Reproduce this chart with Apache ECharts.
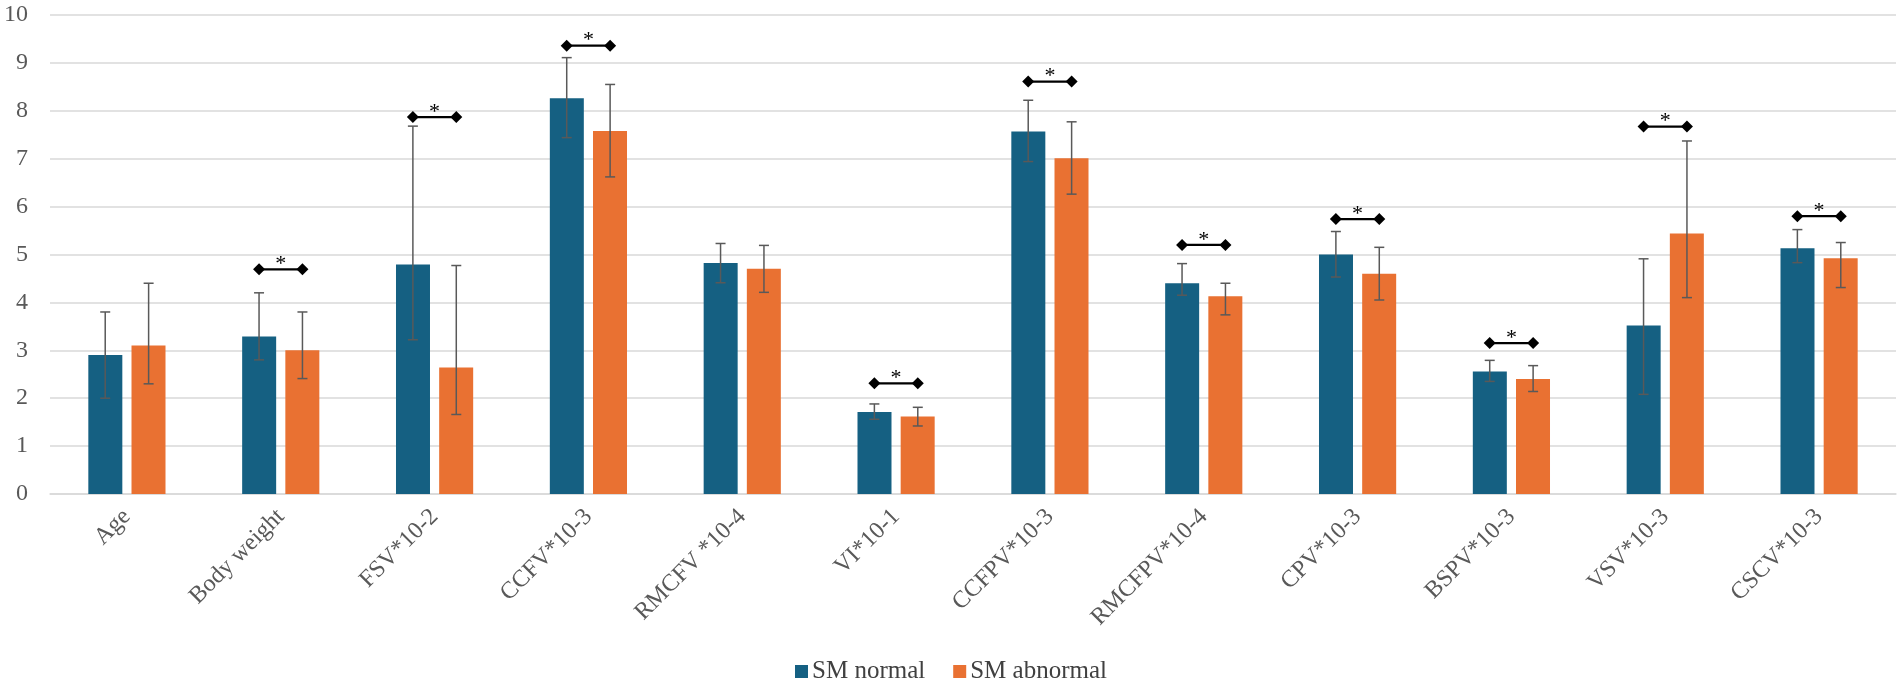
<!DOCTYPE html>
<html>
<head>
<meta charset="utf-8">
<script src="https://cdn.jsdelivr.net/npm/echarts@6/dist/echarts.min.js"></script>
<style>
  html, body { margin: 0; padding: 0; background: #fff; }
  #chart { width: 1902px; height: 690px; }
</style>
</head>
<body>
<div id="chart"></div>
<script>
const categories = ['Age', 'Body weight', 'FSV*10-2', 'CCFV*10-3', 'RMCFV *10-4', 'VI*10-1',
  'CCFPV*10-3', 'RMCFPV*10-4', 'CPV*10-3', 'BSPV*10-3', 'VSV*10-3', 'CSCV*10-3']
const normalMean = [2.90, 3.29, 4.79, 8.26, 4.82, 1.71, 7.57, 4.40, 5.00, 2.56, 3.52, 5.13]
const normalLow = [2.00, 2.80, 3.22, 7.44, 4.41, 1.56, 6.94, 4.15, 4.53, 2.35, 2.08, 4.83]
const normalHigh = [3.80, 4.20, 7.68, 9.11, 5.23, 1.88, 8.22, 4.81, 5.48, 2.79, 4.91, 5.52]
const abnormalMean = [3.10, 3.00, 2.64, 7.58, 4.70, 1.62, 7.01, 4.13, 4.60, 2.40, 5.44, 4.92]
const abnormalLow = [2.30, 2.41, 1.66, 6.62, 4.21, 1.42, 6.26, 3.74, 4.05, 2.14, 4.10, 4.31]
const abnormalHigh = [4.40, 3.80, 4.77, 8.55, 5.19, 1.81, 7.77, 4.40, 5.15, 2.68, 7.37, 5.25]
// height of the significance bracket, null where none
const sigLevel = [null, 4.69, 7.87, 9.36, null, 2.31, 8.61, 5.20, 5.74, 3.15, 7.67, 5.80]
const yTicks = { min: 0, max: 10, interval: 1 }

const FONT = '"Liberation Serif", "Times New Roman", serif'
const BAR_W = 34
const HALF = 21.7 // distance from category centre to each bar centre
const blue = '#156082'
const orange = '#E97132'

const myChart = echarts.init(document.getElementById('chart'))

function errorBars(low, high, side) {
  return {
    type: 'custom',
    z: 5,
    silent: true,
    data: low.map((l, i) => [i, l, high[i]]),
    renderItem(params, api) {
      const lo = api.coord([api.value(0), api.value(1)])
      const hi = api.coord([api.value(0), api.value(2)])
      const x = lo[0] + side * HALF
      const style = { stroke: '#595959', lineWidth: 1.5 }
      return {
        type: 'group',
        children: [
          { type: 'line', shape: { x1: x, y1: lo[1], x2: x, y2: hi[1] }, style },
          { type: 'line', shape: { x1: x - 5, y1: lo[1], x2: x + 5, y2: lo[1] }, style },
          { type: 'line', shape: { x1: x - 5, y1: hi[1], x2: x + 5, y2: hi[1] }, style },
        ],
      }
    },
  }
}

function diamond(x, y) {
  return {
    type: 'polygon',
    shape: { points: [[x - 6, y], [x, y - 6], [x + 6, y], [x, y + 6]] },
    style: { fill: '#000' },
  }
}

const option = {
  backgroundColor: '#fff',
  animation: false,
  color: [blue, orange],
  textStyle: { fontFamily: FONT },
  legend: {
    top: 654,
    left: 'center',
    itemWidth: 13,
    itemHeight: 13,
    itemGap: 28,
    icon: 'rect',
    data: ['SM normal', 'SM abnormal'],
    textStyle: { fontFamily: FONT, fontSize: 25, color: '#404040', padding: [0, 0, 0, -1] },
  },
  grid: { left: 50, right: 6, top: 15, bottom: 196 },
  xAxis: {
    type: 'category',
    data: categories,
    axisLine: { lineStyle: { color: '#d9d9d9', width: 1.5 } },
    axisTick: { show: false },
    axisLabel: {
      rotate: 45,
      margin: 19,
      interval: 0,
      fontFamily: FONT,
      fontSize: 24,
      color: '#595959',
    },
  },
  yAxis: {
    type: 'value',
    ...yTicks,
    axisLine: { show: false },
    axisTick: { show: false },
    splitLine: { lineStyle: { color: '#d9d9d9', width: 1.5 } },
    axisLabel: { margin: 22, fontFamily: FONT, fontSize: 24, color: '#595959' },
  },
  series: [
    { name: 'SM normal', type: 'bar', data: normalMean, barWidth: BAR_W, barGap: '27%' },
    { name: 'SM abnormal', type: 'bar', data: abnormalMean, barWidth: BAR_W, barGap: '27%' },
    errorBars(normalLow, normalHigh, -1),
    errorBars(abnormalLow, abnormalHigh, 1),
    {
      type: 'custom',
      z: 6,
      silent: true,
      data: sigLevel.map((v, i) => [i, v]).filter(d => d[1] != null),
      renderItem(params, api) {
        const p = api.coord([api.value(0), api.value(1)])
        const x1 = p[0] - HALF
        const x2 = p[0] + HALF
        return {
          type: 'group',
          children: [
            { type: 'line', shape: { x1, y1: p[1], x2, y2: p[1] }, style: { stroke: '#000', lineWidth: 2.2 } },
            diamond(x1, p[1]),
            diamond(x2, p[1]),
            {
              type: 'text',
              style: {
                text: '*',
                x: p[0],
                y: p[1] - 5,
                align: 'center',
                verticalAlign: 'middle',
                fill: '#000',
                font: '22px ' + FONT,
              },
            },
          ],
        }
      },
    },
  ],
}
myChart.setOption(option, true)
</script>
</body>
</html>
